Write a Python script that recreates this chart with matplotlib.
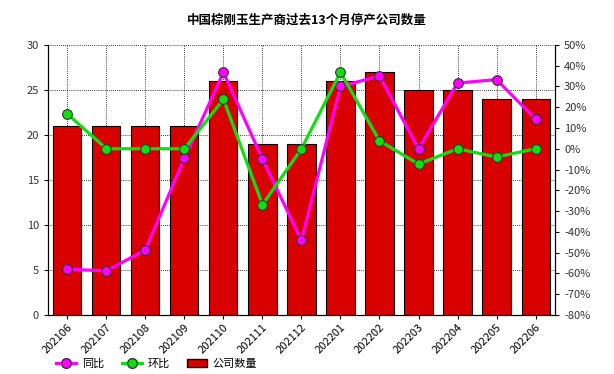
"""Chart: China brown fused alumina producers, idle company count over the past 13 months."""

import matplotlib
matplotlib.use("Agg")
import matplotlib.pyplot as plt
from matplotlib.lines import Line2D
from matplotlib.patches import Patch
from matplotlib.ticker import FuncFormatter

plt.rcParams["font.family"] = ["Noto Sans CJK SC", "DejaVu Sans"]

months = ["202106", "202107", "202108", "202109", "202110", "202111", "202112",
          "202201", "202202", "202203", "202204", "202205", "202206"]
idle_count = [21, 21, 21, 21, 26, 19, 19, 26, 27, 25, 25, 24, 24]
yoy_pct = [-58.0, -58.8, -48.7, -4.5, 36.8, -5.0, -44.1, 30.0, 35.0, 0.0, 31.6, 33.3, 14.3]
mom_pct = [16.7, 0.0, 0.0, 0.0, 23.8, -26.9, 0.0, 36.8, 3.8, -7.4, 0.0, -4.0, 0.0]

BAR = "#d90000"
YOY = "#ff00ff"
MOM = "#11dd11"

fig = plt.figure(figsize=(6.14, 3.74), dpi=100)
ax = fig.add_axes([0.078, 0.158, 0.826, 0.722])
x = list(range(len(months)))

ax.bar(x, idle_count, width=0.72, color=BAR, edgecolor="black", linewidth=0.8, zorder=2)
ax.set_xlim(-0.5, len(months) - 0.5)
ax.set_ylim(0, 30)
ax.set_yticks(range(0, 31, 5))
ax.set_xticks(x)
ax.set_xticklabels(months, rotation=45, ha="right", rotation_mode="anchor", fontsize=8)
ax.tick_params(axis="y", labelsize=8, length=3, labelcolor="#333333")
ax.tick_params(axis="x", length=3, pad=2)
ax.grid(True, linestyle=(0, (1, 1.5)), color="black", linewidth=0.6, zorder=0)
ax.set_axisbelow(True)
ax.spines["top"].set_visible(False)

ax2 = ax.twinx()
ax2.plot(x, yoy_pct, color=YOY, linewidth=2.3, marker="o", markersize=7,
         markerfacecolor=YOY, markeredgecolor="#333333", markeredgewidth=0.8, zorder=3)
ax2.plot(x, mom_pct, color=MOM, linewidth=2.3, marker="o", markersize=7,
         markerfacecolor=MOM, markeredgecolor="#333333", markeredgewidth=0.8, zorder=4)
ax2.set_ylim(-80, 50)
ax2.set_yticks(range(-80, 51, 10))
ax2.yaxis.set_major_formatter(FuncFormatter(lambda v, _: f"{v:.0f}%"))
ax2.tick_params(axis="y", labelsize=8, length=3, labelcolor="#333333")
ax2.spines["top"].set_visible(False)

fig.text(0.5, 0.945, "中国棕刚玉生产商过去13个月停产公司数量", ha="center", va="center",
         fontsize=9, fontweight="bold")

handles = [
    Line2D([0], [0], color=YOY, linewidth=2.3, marker="o", markersize=7,
           markerfacecolor=YOY, markeredgecolor="#333333"),
    Line2D([0], [0], color=MOM, linewidth=2.3, marker="o", markersize=7,
           markerfacecolor=MOM, markeredgecolor="#333333"),
    Patch(facecolor=BAR, edgecolor="black"),
]
fig.legend(handles, ["同比", "环比", "公司数量"], loc="center left",
           bbox_to_anchor=(0.075, 0.027), ncol=3, frameon=False, fontsize=8,
           handlelength=1.8, columnspacing=1.6, handletextpad=0.5)

fig.savefig("out.png", dpi=100)
